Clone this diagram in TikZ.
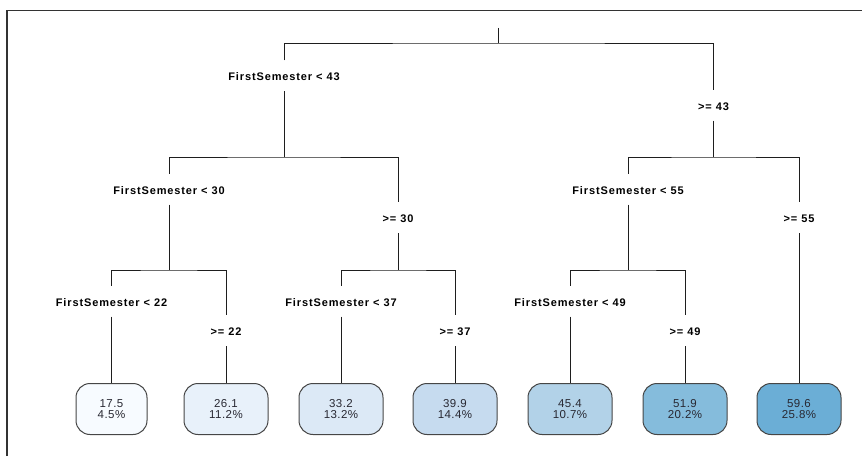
\documentclass[tikz,border=0pt]{standalone}
\usepackage{fontspec}
\newfontfamily\labfont[LetterSpace=8]{Liberation Sans}
\newfontfamily\leaffont[LetterSpace=4]{Liberation Sans}
\definecolor{bA}{RGB}{247,251,255}
\definecolor{bB}{RGB}{232,241,250}
\definecolor{bC}{RGB}{220,233,246}
\definecolor{bD}{RGB}{198,219,239}
\definecolor{bE}{RGB}{178,210,232}
\definecolor{bF}{RGB}{133,188,220}
\definecolor{bG}{RGB}{107,174,214}
\definecolor{treeline}{RGB}{30,30,30}
\definecolor{leafline}{RGB}{70,70,70}
\definecolor{leaftext}{RGB}{40,40,50}
\begin{document}
\begin{tikzpicture}[x=1pt,y=1pt,
  splitlab/.style={inner xsep=2pt,inner ysep=0pt,text height=10.4pt,text depth=0pt,
    minimum height=30.5pt,font=\labfont\bfseries\fontsize{11}{11}\selectfont,text=black},
  leafbox/.style={draw=leafline,line width=1pt,rounded corners=14pt,minimum height=51pt,
    minimum width=84pt,inner sep=0pt,align=center,text=leaftext,
    font=\leaffont\fontsize{11.5}{11}\selectfont},
  branch/.style={draw=treeline,line width=0.85pt}]
\useasboundingbox (0,0) rectangle (862,456);
% frame
\draw[line width=1.1pt,draw=black!80] (7,0) -- (7,445.5) -- (862,445.5);
% junctions
\coordinate (root) at (498.5,428);
\coordinate (j1) at (498.5,413);
\coordinate (j2L) at (284,299);
\coordinate (j2R) at (713.5,299);
\coordinate (j3a) at (169,186);
\coordinate (j3b) at (398,186);
\coordinate (j3c) at (628,186);
% split labels
\node[splitlab] (lab43) at (284,380.25) {FirstSemester < 43};
\node[splitlab] (ge43) at (713.5,350.75) {>= 43};
\node[splitlab] (lab30) at (169,266.75) {FirstSemester < 30};
\node[splitlab] (ge30) at (398,238.25) {>= 30};
\node[splitlab] (lab55) at (628,266.75) {FirstSemester < 55};
\node[splitlab] (ge55) at (799,238.25) {>= 55};
\node[splitlab] (lab22) at (111.5,154.75) {FirstSemester < 22};
\node[splitlab] (ge22) at (226,125.25) {>= 22};
\node[splitlab] (lab37) at (341,154.75) {FirstSemester < 37};
\node[splitlab] (ge37) at (455,125.25) {>= 37};
\node[splitlab] (lab49) at (570,154.75) {FirstSemester < 49};
\node[splitlab] (ge49) at (685,125.25) {>= 49};
% leaves
\node[leafbox,fill=bA,minimum width=71pt] (leaf1) at (111.5,47) {17.5\\4.5\%};
\node[leafbox,fill=bB] (leaf2) at (226,47) {26.1\\11.2\%};
\node[leafbox,fill=bC] (leaf3) at (341,47) {33.2\\13.2\%};
\node[leafbox,fill=bD] (leaf4) at (455,47) {39.9\\14.4\%};
\node[leafbox,fill=bE] (leaf5) at (570,47) {45.4\\10.7\%};
\node[leafbox,fill=bF] (leaf6) at (685,47) {51.9\\20.2\%};
\node[leafbox,fill=bG] (leaf7) at (799,47) {59.6\\25.8\%};
% branches
\draw[branch] (root) -- (j1);
\draw[branch] (lab43.north) |- (j1) -| (ge43.north);
\draw[branch] (lab43.south) -- (j2L);
\draw[branch] (ge43.south) -- (j2R);
\draw[branch] (lab30.north) |- (j2L) -| (ge30.north);
\draw[branch] (lab55.north) |- (j2R) -| (ge55.north);
\draw[branch] (lab30.south) -- (j3a);
\draw[branch] (ge30.south) -- (j3b);
\draw[branch] (lab55.south) -- (j3c);
\draw[branch] (lab22.north) |- (j3a) -| (ge22.north);
\draw[branch] (lab37.north) |- (j3b) -| (ge37.north);
\draw[branch] (lab49.north) |- (j3c) -| (ge49.north);
\draw[branch] (lab22.south) -- (leaf1.north);
\draw[branch] (ge22.south) -- (leaf2.north);
\draw[branch] (lab37.south) -- (leaf3.north);
\draw[branch] (ge37.south) -- (leaf4.north);
\draw[branch] (lab49.south) -- (leaf5.north);
\draw[branch] (ge49.south) -- (leaf6.north);
\draw[branch] (ge55.south) -- (leaf7.north);
\end{tikzpicture}
\end{document}
